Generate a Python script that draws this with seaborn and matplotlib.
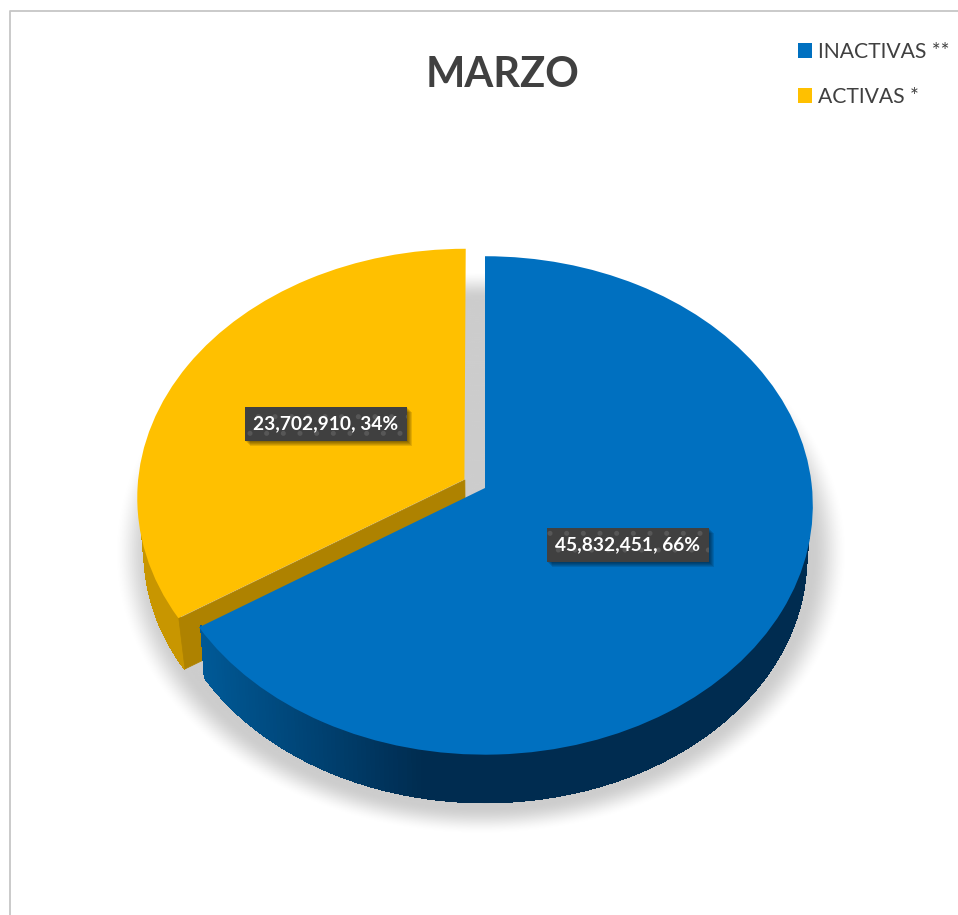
import numpy as np
import seaborn as sns
import matplotlib.pyplot as plt
import matplotlib.patheffects as pe
from matplotlib.collections import PolyCollection, LineCollection
from matplotlib.transforms import Transform
from matplotlib.colors import to_rgb

labels = ['INACTIVAS **', 'ACTIVAS *']
values = [45832451, 23702910]
explode = [0, 0.072]
colors = ['#0070C0', '#FFC000']
label_pos = [(628, 545), (326, 424)]
title = 'MARZO'

sns.set_theme(style='white')
plt.rcParams['font.family'] = ['Lato', 'DejaVu Sans']
plt.rcParams['hatch.linewidth'] = 1.2

# tilt of the pie, in pixels of the picture
CX, CY, SX, SY, K, DEPTH, SHRINK = 485, 488, 327, 248, 0.07, 53, 0.02


def project(x, y, z=0):
    w = 1 + K * y
    s = (1 - SHRINK * z) / w
    return CX + SX * x * s, CY - SY * y * s + DEPTH * z


class PieTilt(Transform):
    input_dims = 2
    output_dims = 2

    def transform_non_affine(self, xy):
        xy = np.asarray(xy)
        px, py = project(xy[:, 0], xy[:, 1])
        return np.column_stack([px, py])


class SoftShadow(pe.AbstractPathEffect):
    def draw_path(self, renderer, gc, tpath, affine, rgbFace):
        gc0 = renderer.new_gc()
        gc0.copy_properties(gc)
        gc0.set_hatch(None)
        gc0.set_linewidth(0)
        for off in [5, 4, 3, 2, 1]:
            gc0.set_alpha(0.11)
            shift = self._offset_transform(renderer).translate(off, -off)
            renderer.draw_path(gc0, tpath, affine + shift, (0, 0, 0))
        gc0.restore()


def mix(c1, c2, t):
    c1, c2 = np.array(to_rgb(c1)), np.array(to_rgb(c2))
    return tuple(c1 + (c2 - c1) * t)


def rim_wall(wedge, left_col, right_col, x0, x1, zorder):
    th = np.radians(np.linspace(wedge.theta1, wedge.theta2, 300))
    # only the near half of the rim can be seen
    th = th[np.sin(th) < 0.05]
    x = wedge.center[0] + wedge.r * np.cos(th)
    y = wedge.center[1] + wedge.r * np.sin(th)
    # upper edge pulled in a little so it stays under the top face
    px, py = project(wedge.center[0] + 0.993 * wedge.r * np.cos(th), wedge.center[1] + 0.993 * wedge.r * np.sin(th))
    qx, qy = project(x, y, 1)
    polys, cols, lines = [], [], []
    for i in range(len(th) - 1):
        polys.append([(px[i], py[i]), (px[i + 1], py[i + 1]), (qx[i + 1], qy[i + 1]), (qx[i], qy[i])])
        t = np.clip((px[i] - x0) / (x1 - x0), 0, 1)
        cols.append(mix(left_col, right_col, t))
        lines.append([(qx[i], qy[i]), (qx[i + 1], qy[i + 1])])
    ax.add_collection(PolyCollection(polys, facecolors=cols, edgecolors=cols, linewidths=0.8,
                                     antialiaseds=False, zorder=zorder))
    # smooth lower edge, the strips above are not antialiased
    ax.add_collection(LineCollection(lines, colors=cols, linewidths=1.0, capstyle='round', zorder=zorder))


fig = plt.figure(figsize=(9.58, 9.15), dpi=100)
ax = fig.add_axes([0, 0, 1, 1])

wedges, _ = ax.pie(values, explode=explode, colors=colors, startangle=90, counterclock=False,
                   wedgeprops=dict(linewidth=0))
ax.set_aspect('auto')
tilt = PieTilt()
for w, z in zip(wedges, [5, 3]):
    w.set_transform(tilt + ax.transData)
    w.set_zorder(z)

# soft shadow on the ground
gx, gy = np.meshgrid(np.linspace(0, 958, 480), np.linspace(0, 915, 460))
r = np.hypot((gx - 481) / 368, (gy - 553) / 283)
soft = np.clip((1 - r) / 0.1, 0, 1)
soft = soft * soft * (3 - 2 * soft)
shadow = np.zeros(gx.shape + (4,))
shadow[..., 3] = soft * 0.2
ax.imshow(shadow, extent=(0, 958, 915, 0), aspect='auto', zorder=1)

# side walls
rim_wall(wedges[1], '#c89600', '#c89600', 0, 1, 2)
rim_wall(wedges[0], '#005a98', '#002c50', 197, 420, 4)

# cut face of the yellow slice
yw = wedges[1]
th = np.radians(min([yw.theta1, yw.theta2], key=lambda a: np.sin(np.radians(a))))
ex, ey = yw.center[0] + yw.r * np.cos(th), yw.center[1] + yw.r * np.sin(th)
face = [project(*yw.center), project(ex, ey), project(ex, ey, 1), project(*yw.center, 1)]
ax.add_collection(PolyCollection([face], facecolors='#ae8200', edgecolors='#ae8200', linewidths=0.5, zorder=2.5))

# data labels
total = sum(values)
for v, (lx, ly) in zip(values, label_pos):
    t = ax.text(lx, ly, f'{v:,}, {v / total:.0%}', color='white', fontsize=13.8, fontweight='bold',
                ha='center', va='center', zorder=7,
                bbox=dict(boxstyle='square,pad=0.44', facecolor='#404040', edgecolor='#575757',
                          hatch='.', linewidth=0))
    t.get_bbox_patch().set_path_effects([SoftShadow(), pe.Normal()])

ax.text(503, 75, title, color='#404040', fontsize=30, fontweight='bold', ha='center', va='center')

leg = ax.legend(wedges, labels, loc='upper left', bbox_to_anchor=(798, 42), bbox_transform=ax.transData,
                frameon=False, fontsize=15.2, labelcolor='#404040', borderpad=0, borderaxespad=0,
                handlelength=0.66, handleheight=0.66, handletextpad=0.3, labelspacing=1.18)

# chart area border, only the left and top edges fall inside the crop
ax.plot([10, 10, 958], [915, 11, 11], color='#c6c6c6', lw=1.3, zorder=8)

ax.set_xlim(0, 958)
ax.set_ylim(915, 0)
ax.axis('off')

fig.savefig('out.png', dpi=100)
